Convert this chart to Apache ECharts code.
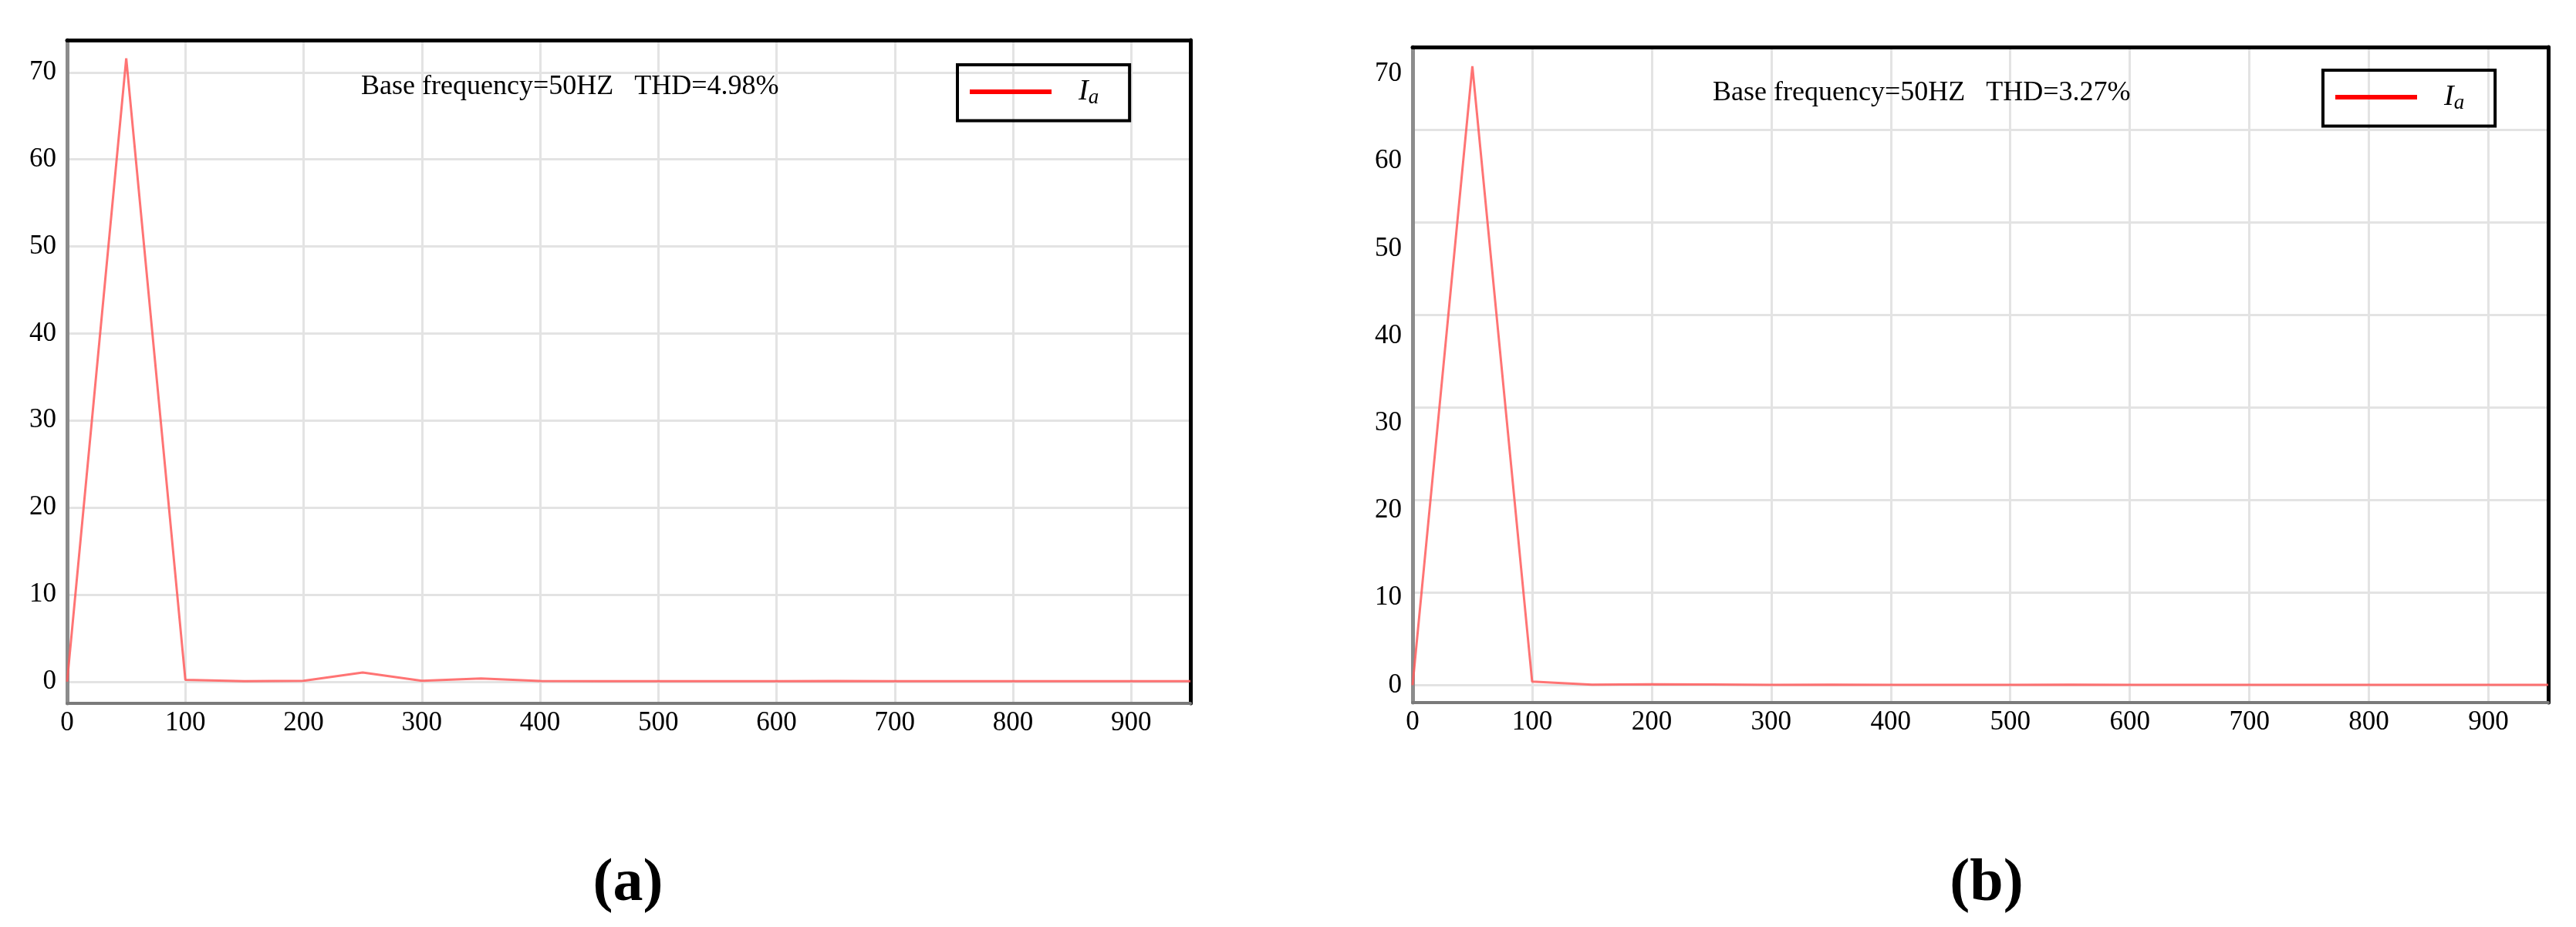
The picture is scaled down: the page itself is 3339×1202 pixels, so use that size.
<!DOCTYPE html>
<html>
<head>
<meta charset="utf-8">
<script src="https://cdn.jsdelivr.net/npm/echarts@6/dist/echarts.min.js"></script>
<style>
  html, body { margin: 0; padding: 0; background: #fff; }
  #chart { width: 3339px; height: 1202px; }
</style>
</head>
<body>
<div id="chart"></div>
<script>
// harmonic spectrum, frequency in Hz
const freq = [0, 50, 100, 150, 200, 250, 300, 350, 400, 450, 500, 550, 600, 650, 700, 750, 800, 850, 900, 950]
const iaA = [0, 71.6, 0.2, 0.05, 0.1, 1.05, 0.1, 0.35, 0.06, 0.05, 0.05, 0.05, 0.05, 0.08, 0.05, 0.04, 0.04, 0.04, 0.04, 0.04]
const iaB = [0, 70.9, 0.4, 0.06, 0.1, 0.08, 0.03, 0.05, 0.03, 0.03, 0.03, 0.05, 0.03, 0.03, 0.03, 0.03, 0.03, 0.03, 0.03, 0.03]
const textA = 'Base frequency=50HZ   THD=4.98%'
const textB = 'Base frequency=50HZ   THD=3.27%'

const font = 'Liberation Serif'
const gridColor = '#e3e3e3'

const pairs = (ys) => freq.map((f, i) => [f, ys[i]])

const bottomX = (gridIndex) => ({
  type: 'value', gridIndex: gridIndex, min: 0, max: 950, splitNumber: 10,
  axisLine: { show: true, onZero: false, lineStyle: { color: '#7a7a7a', width: 4 } },
  axisTick: { show: false },
  axisLabel: { show: true, showMaxLabel: false, margin: 8, color: '#000', fontFamily: font, fontSize: 35 },
  splitLine: { show: true, showMinLine: false, showMaxLine: false, lineStyle: { color: gridColor, width: 3 } }
})
const topX = (gridIndex) => ({
  type: 'value', gridIndex: gridIndex, position: 'top', min: 0, max: 950,
  axisLine: { show: true, onZero: false, lineStyle: { color: '#000', width: 5 } },
  axisTick: { show: false }, axisLabel: { show: false }, splitLine: { show: false }
})
const leftY = (gridIndex, min, max, grid) => ({
  type: 'value', gridIndex: gridIndex, min: min, max: max, splitNumber: 8,
  axisLine: { show: true, onZero: false, lineStyle: { color: '#8c8c8c', width: 5 } },
  axisTick: { show: false },
  axisLabel: { show: true, showMinLabel: false, showMaxLabel: false, margin: 14, color: '#000', fontFamily: font, fontSize: 35 },
  splitLine: { show: grid, showMinLine: false, showMaxLine: false, lineStyle: { color: gridColor, width: 3 } }
})
const rightY = (gridIndex, min, max) => ({
  type: 'value', gridIndex: gridIndex, position: 'right', min: min, max: max,
  axisLine: { show: true, onZero: false, lineStyle: { color: '#000', width: 5 } },
  axisTick: { show: false }, axisLabel: { show: false }, splitLine: { show: false }
})

const legendRich = {
  i: { fontFamily: font, fontStyle: 'italic', fontSize: 38, color: '#000' },
  s: { fontFamily: font, fontStyle: 'italic', fontSize: 27, color: '#000', padding: [16, 0, 0, 0] }
}
const makeLegend = (left, top) => ({
  left: left, top: top, orient: 'horizontal',
  data: [{ name: 'Ia', icon: 'rect' }],
  itemWidth: 106, itemHeight: 6, itemGap: 0,
  padding: [16, 40, 16, 16],
  borderColor: '#000', borderWidth: 4, borderRadius: 0,
  itemStyle: { color: '#ff0000', opacity: 1 },
  formatter: () => '{i|I}{s|a}',
  textStyle: { rich: legendRich, padding: [0, 0, 0, 30] }
})

const option = {
  backgroundColor: '#fff',
  animation: false,
  title: [
    { text: textA, left: 468, top: 95, padding: 0, textStyle: { fontFamily: font, fontWeight: 'normal', fontSize: 36, color: '#000' } },
    { text: textB, left: 2220, top: 103, padding: 0, textStyle: { fontFamily: font, fontWeight: 'normal', fontSize: 36, color: '#000' } },
    {
      text: '{p|(}{b|a}{p|)}', left: 814, top: 1108, textAlign: 'center', padding: 0,
      textStyle: { rich: { p: { fontFamily: font, fontSize: 78, color: '#000' }, b: { fontFamily: font, fontSize: 78, fontWeight: 'bold', color: '#000' } } }
    },
    {
      text: '{p|(}{b|b}{p|)}', left: 2575, top: 1108, textAlign: 'center', padding: 0,
      textStyle: { rich: { p: { fontFamily: font, fontSize: 78, color: '#000' }, b: { fontFamily: font, fontSize: 78, fontWeight: 'bold', color: '#000' } } }
    }
  ],
  legend: [makeLegend(1241, 84), makeLegend(3011, 91)],
  grid: [
    { left: 87, right: 1796, top: 52, bottom: 290 },
    { left: 1831, right: 36, top: 61, bottom: 291 },
    // right panel draws its horizontal grid on its own spacing, from the zero line up
    { left: 1831, right: 36, top: 61, bottom: 314 }
  ],
  xAxis: [
    bottomX(0), topX(0), bottomX(1), topX(1),
    { type: 'value', gridIndex: 2, min: 0, max: 950, show: false, splitLine: { show: false } }
  ],
  yAxis: [
    leftY(0, -2.5, 73.7, true), rightY(0, -2.5, 73.7),
    leftY(1, -2.0, 73.1, false), rightY(1, -2.0, 73.1),
    {
      type: 'value', gridIndex: 2, min: 0, max: 73.1, interval: 10.6,
      axisLine: { show: false }, axisTick: { show: false }, axisLabel: { show: false },
      splitLine: { show: true, showMinLine: true, showMaxLine: false, lineStyle: { color: gridColor, width: 3 } }
    }
  ],
  series: [
    {
      name: 'Ia', type: 'line', xAxisIndex: 0, yAxisIndex: 0,
      symbol: 'none', data: pairs(iaA),
      lineStyle: { color: '#ff5c5c', width: 3, opacity: 0.85 }, itemStyle: { color: '#ff0000' }
    },
    {
      name: 'Ia', type: 'line', xAxisIndex: 2, yAxisIndex: 2,
      symbol: 'none', data: pairs(iaB),
      lineStyle: { color: '#ff5c5c', width: 3, opacity: 0.85 }, itemStyle: { color: '#ff0000' }
    }
  ]
}

const myChart = echarts.init(document.getElementById('chart'))
myChart.setOption(option)
</script>
</body>
</html>
